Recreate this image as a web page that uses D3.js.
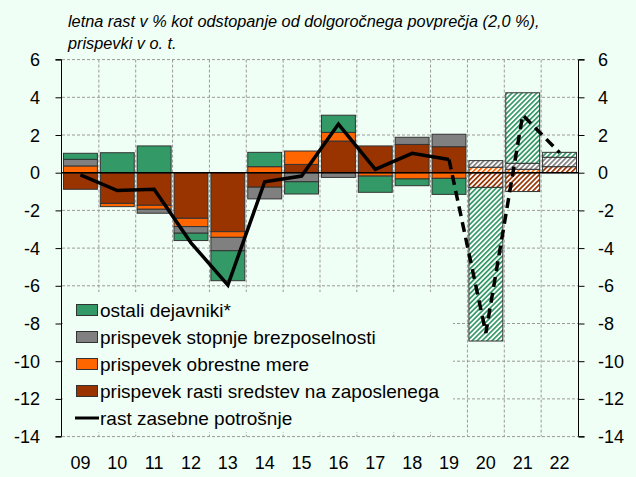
<!DOCTYPE html>
<html><head><meta charset="utf-8">
<script src="https://cdn.jsdelivr.net/npm/d3@7"></script>
<style>
html,body{margin:0;padding:0;background:#F0FFF5;}
svg{display:block;font-family:"Liberation Sans",Arial,sans-serif;}
</style></head>
<body><svg id="c" width="636" height="477"></svg>
<script>
const years = ["09","10","11","12","13","14","15","16","17","18","19","20","21","22"];
const compensation = [-0.88,-1.63,-1.73,-2.42,-3.13,-0.77,0.44,1.68,1.42,1.50,1.38,-0.78,-1.00,0.32];
const interestRate = [0.36,-0.17,-0.21,-0.44,-0.30,0.32,0.71,0.46,-0.18,-0.33,-0.30,0.29,0.18,0.00];
const unemployment = [0.35,0.00,-0.21,-0.35,-0.71,-0.62,-0.48,-0.25,0.00,0.38,0.66,0.35,0.32,0.50];
const otherFactors = [0.32,1.06,1.42,-0.39,-1.59,0.76,-0.65,0.91,-0.86,-0.36,-0.85,-8.15,3.74,0.26];
const consumption = [-0.12,-0.95,-0.88,-3.72,-5.96,-0.48,-0.18,2.58,0.18,1.03,0.70,-8.50,3.06,1.06];
const yTicks = [6,4,2,0,-2,-4,-6,-8,-10,-12,-14];
const forecastFrom = 11;

const seriesKeys = ["comp","rate","unemp","other"];
const colors = {comp:"#993300", rate:"#FF6600", unemp:"#808080", other:"#339966"};

const rows = years.map((y,i)=>({year:y, comp:compensation[i], rate:interestRate[i], unemp:unemployment[i], other:otherFactors[i]}));

const svg = d3.select("#c");
const L=62, R=578, T=59.6, B=436.6;
const x = d3.scaleBand().domain(years).range([L,R]).paddingInner(0.08).paddingOuter(0.04);
const y = d3.scaleLinear().domain([-14,6]).range([B,T]);

// patterns
const defs = svg.append("defs");
seriesKeys.forEach(k=>{
  const p = defs.append("pattern").attr("id","h_"+k).attr("patternUnits","userSpaceOnUse")
    .attr("width",3.5).attr("height",3.5).attr("patternTransform","rotate(45)");
  p.append("rect").attr("width",3.5).attr("height",3.5).attr("fill","#ffffff");
  p.append("rect").attr("width",1.7).attr("height",3.5).attr("fill",colors[k]);
});

// grid
const step = x.step();
const g = svg.append("g");
for(let i=1;i<years.length;i++){
  const xx = L + i*step;
  g.append("line").attr("x1",xx).attr("x2",xx).attr("y1",T).attr("y2",B)
   .attr("stroke","#999").attr("stroke-dasharray","3,2").attr("stroke-width",1);
}
yTicks.forEach(t=>{
  g.append("line").attr("x1",L).attr("x2",R).attr("y1",y(t)).attr("y2",y(t))
   .attr("stroke","#999").attr("stroke-dasharray","3,2").attr("stroke-width",1);
});

// stacked bars
const stack = d3.stack().keys(seriesKeys).offset(d3.stackOffsetDiverging);
const stacked = stack(rows);
stacked.forEach(s=>{
  svg.append("g").selectAll("rect").data(s).join("rect")
    .attr("x",d=>x(d.data.year))
    .attr("width",x.bandwidth())
    .attr("y",d=>y(Math.max(d[0],d[1])))
    .attr("height",d=>Math.abs(y(d[0])-y(d[1])))
    .attr("fill",(d,i)=> i>=forecastFrom ? "url(#h_"+s.key+")" : colors[s.key])
    .attr("stroke","#333").attr("stroke-width",1)
    .attr("stroke-opacity",d=>Math.abs(d[1]-d[0])<1e-6?0:1);
});

// zero line
svg.append("line").attr("x1",L).attr("x2",R).attr("y1",y(0)).attr("y2",y(0))
  .attr("stroke","#000").attr("stroke-width",1.5);

// legend box
svg.append("rect").attr("x",L+1).attr("y",292).attr("width",452-L).attr("height",140).attr("fill","#F0FFF5");

// line
const lineGen = d3.line().x(d=>x(years[d.i])+x.bandwidth()/2).y(d=>y(d.v));
const pts = consumption.map((v,i)=>({v,i}));
svg.append("path").datum(pts.slice(0,forecastFrom)).attr("d",lineGen)
  .attr("fill","none").attr("stroke","#000").attr("stroke-width",3.5).attr("stroke-linejoin","miter");
svg.append("path").datum(pts.slice(forecastFrom-1)).attr("d",lineGen)
  .attr("fill","none").attr("stroke","#000").attr("stroke-width",3.5).attr("stroke-dasharray","10,6");

// axes
const axL = svg.append("g").attr("transform",`translate(${L-0.5},0)`)
  .call(d3.axisLeft(y).tickValues(yTicks).tickSize(6).tickFormat(""));
const axR = svg.append("g").attr("transform",`translate(${R+0.5},0)`)
  .call(d3.axisRight(y).tickValues(yTicks).tickSize(6).tickFormat(""));
[axL,axR].forEach(a=>{a.selectAll("path,line").attr("stroke","#000").attr("stroke-width",1);
  a.select(".domain").attr("d", a===axL ? `M-6,${y(6)}H0V${y(-14)}H-6` : `M6,${y(6)}H0V${y(-14)}H6`);});

const fs = 18;
yTicks.forEach(t=>{
  svg.append("text").attr("x",40).attr("y",y(t)+6.5).attr("text-anchor","end")
    .attr("font-size",fs).attr("fill","#000").text(t);
  svg.append("text").attr("x",598).attr("y",y(t)+6.5).attr("text-anchor","start")
    .attr("font-size",fs).attr("fill","#000").text(t);
});
years.forEach(yr=>{
  svg.append("text").attr("x",x(yr)+x.bandwidth()/2).attr("y",469).attr("text-anchor","middle")
    .attr("font-size",fs).attr("fill","#000").text(yr);
});

// title
svg.append("text").attr("x",68).attr("y",27).attr("font-size",16.3).attr("font-style","italic")
  .attr("fill","#000").text("letna rast v % kot odstopanje od dolgoročnega povprečja (2,0 %),");
svg.append("text").attr("x",68).attr("y",49).attr("font-size",16.3).attr("font-style","italic")
  .attr("fill","#000").text("prispevki v o. t.");

// legend
const legendItems = [
  {name:"ostali dejavniki*", key:"other"},
  {name:"prispevek stopnje brezposelnosti", key:"unemp"},
  {name:"prispevek obrestne mere", key:"rate"},
  {name:"prispevek rasti sredstev na zaposlenega", key:"comp"},
  {name:"rast zasebne potrošnje", key:null}
];
const ly0 = 310, ldy = 27;
legendItems.forEach((it,i)=>{
  const cy = ly0 + i*ldy;
  if(it.key){
    svg.append("rect").attr("x",76.5).attr("y",cy-5.5).attr("width",21).attr("height",11)
      .attr("fill",colors[it.key]).attr("stroke","#333").attr("stroke-width",1);
  } else {
    svg.append("line").attr("x1",75).attr("x2",99).attr("y1",cy).attr("y2",cy)
      .attr("stroke","#000").attr("stroke-width",3);
  }
  svg.append("text").attr("x",100).attr("y",cy+7).attr("font-size",19).attr("fill","#000").text(it.name);
});
</script></body></html>
